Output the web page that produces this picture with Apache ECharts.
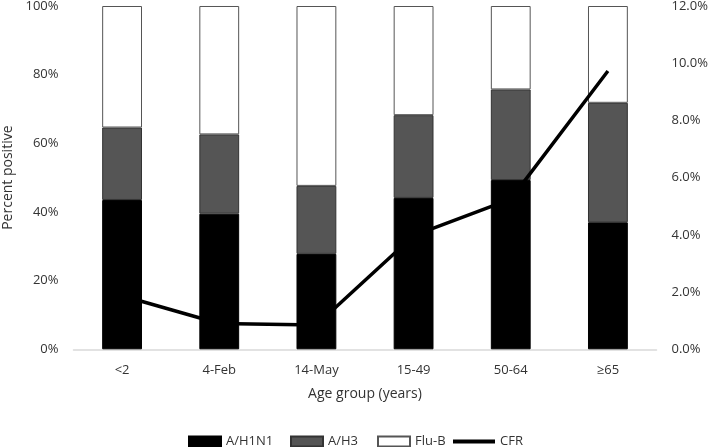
<!DOCTYPE html>
<html>
<head>
<meta charset="utf-8">
<script src="https://cdn.jsdelivr.net/npm/echarts@6/dist/echarts.min.js"></script>
<style>
html,body{margin:0;padding:0;background:#fff;}
#chart{width:709px;height:447px;}
</style>
</head>
<body>
<div id="chart"></div>
<script>
const categories = ['<2', '4-Feb', '14-May', '15-49', '50-64', '≥65'];
const h1n1 = [43.5, 39.5, 27.8, 44.1, 49.3, 37.0];
const h3 = [21.1, 23.1, 19.8, 24.1, 26.4, 34.8];
const fluB = [35.4, 37.4, 52.4, 31.8, 24.3, 28.2];
const cfr = [1.87, 0.9, 0.85, 3.97, 5.25, 9.73];
const leftTicks = [0, 20, 40, 60, 80, 100];
const rightTicks = [0, 2, 4, 6, 8, 10, 12];

const FONT = 'Open Sans';
const TXT = '#333333';
const chart = echarts.init(document.getElementById('chart'), null, {renderer: 'canvas'});

function legendAt(name, left, extra) {
  return Object.assign({
    data: [name], left: left, top: 430, itemWidth: 32, itemHeight: 10, itemGap: 4,
    icon: 'rect',
    textStyle: {fontFamily: FONT, fontSize: 13, color: TXT},
    selectedMode: false
  }, extra || {});
}

chart.setOption({
  animation: false,
  textStyle: {fontFamily: FONT},
  grid: {left: 73.5, right: 52.5, top: 6, bottom: 97.7, containLabel: false, outerBoundsMode: 'none'},
  legend: [
    legendAt('A/H1N1', 183),
    legendAt('A/H3', 285),
    legendAt('Flu-B', 372),
    legendAt('CFR', 448, {itemWidth: 42, itemHeight: 4})
  ],
  xAxis: {
    type: 'category', data: categories,
    axisLine: {lineStyle: {color: '#d9d9d9', width: 1.5}},
    axisTick: {show: false},
    axisLabel: {fontFamily: FONT, fontSize: 13, color: TXT, margin: 14},
    name: 'Age group (years)', nameLocation: 'middle', nameGap: 38,
    nameTextStyle: {fontFamily: FONT, fontSize: 14, color: TXT}
  },
  yAxis: [
    {
      type: 'value', min: 0, max: 100, interval: 20,
      axisLine: {show: false}, axisTick: {show: false}, splitLine: {show: false},
      axisLabel: {fontFamily: FONT, fontSize: 13, color: TXT, margin: 15, formatter: v => v + '%'},
      name: 'Percent positive', nameLocation: 'middle', nameGap: 57,
      nameTextStyle: {fontFamily: FONT, fontSize: 14, color: TXT}
    },
    {
      type: 'value', min: 0, max: 12, interval: 2,
      axisLine: {show: false}, axisTick: {show: false}, splitLine: {show: false},
      axisLabel: {fontFamily: FONT, fontSize: 13, color: TXT, margin: 15, formatter: v => v.toFixed(1) + '%'}
    }
  ],
  series: [
    {name: 'A/H1N1', type: 'bar', stack: 's', data: h1n1, barWidth: '41%',
     itemStyle: {color: '#000000', borderColor: '#000000', borderWidth: 1}},
    {name: 'A/H3', type: 'bar', stack: 's', data: h3, barWidth: '41%',
     itemStyle: {color: '#555555', borderColor: '#333333', borderWidth: 1}},
    {name: 'Flu-B', type: 'bar', stack: 's', data: fluB, barWidth: '41%',
     itemStyle: {color: '#ffffff', borderColor: '#555555', borderWidth: 1}},
    {name: 'CFR', type: 'line', yAxisIndex: 1, data: cfr, z: 5,
     symbol: 'none', lineStyle: {color: '#000000', width: 3.5},
     itemStyle: {color: '#000000'}}
  ]
});
</script>
</body>
</html>
